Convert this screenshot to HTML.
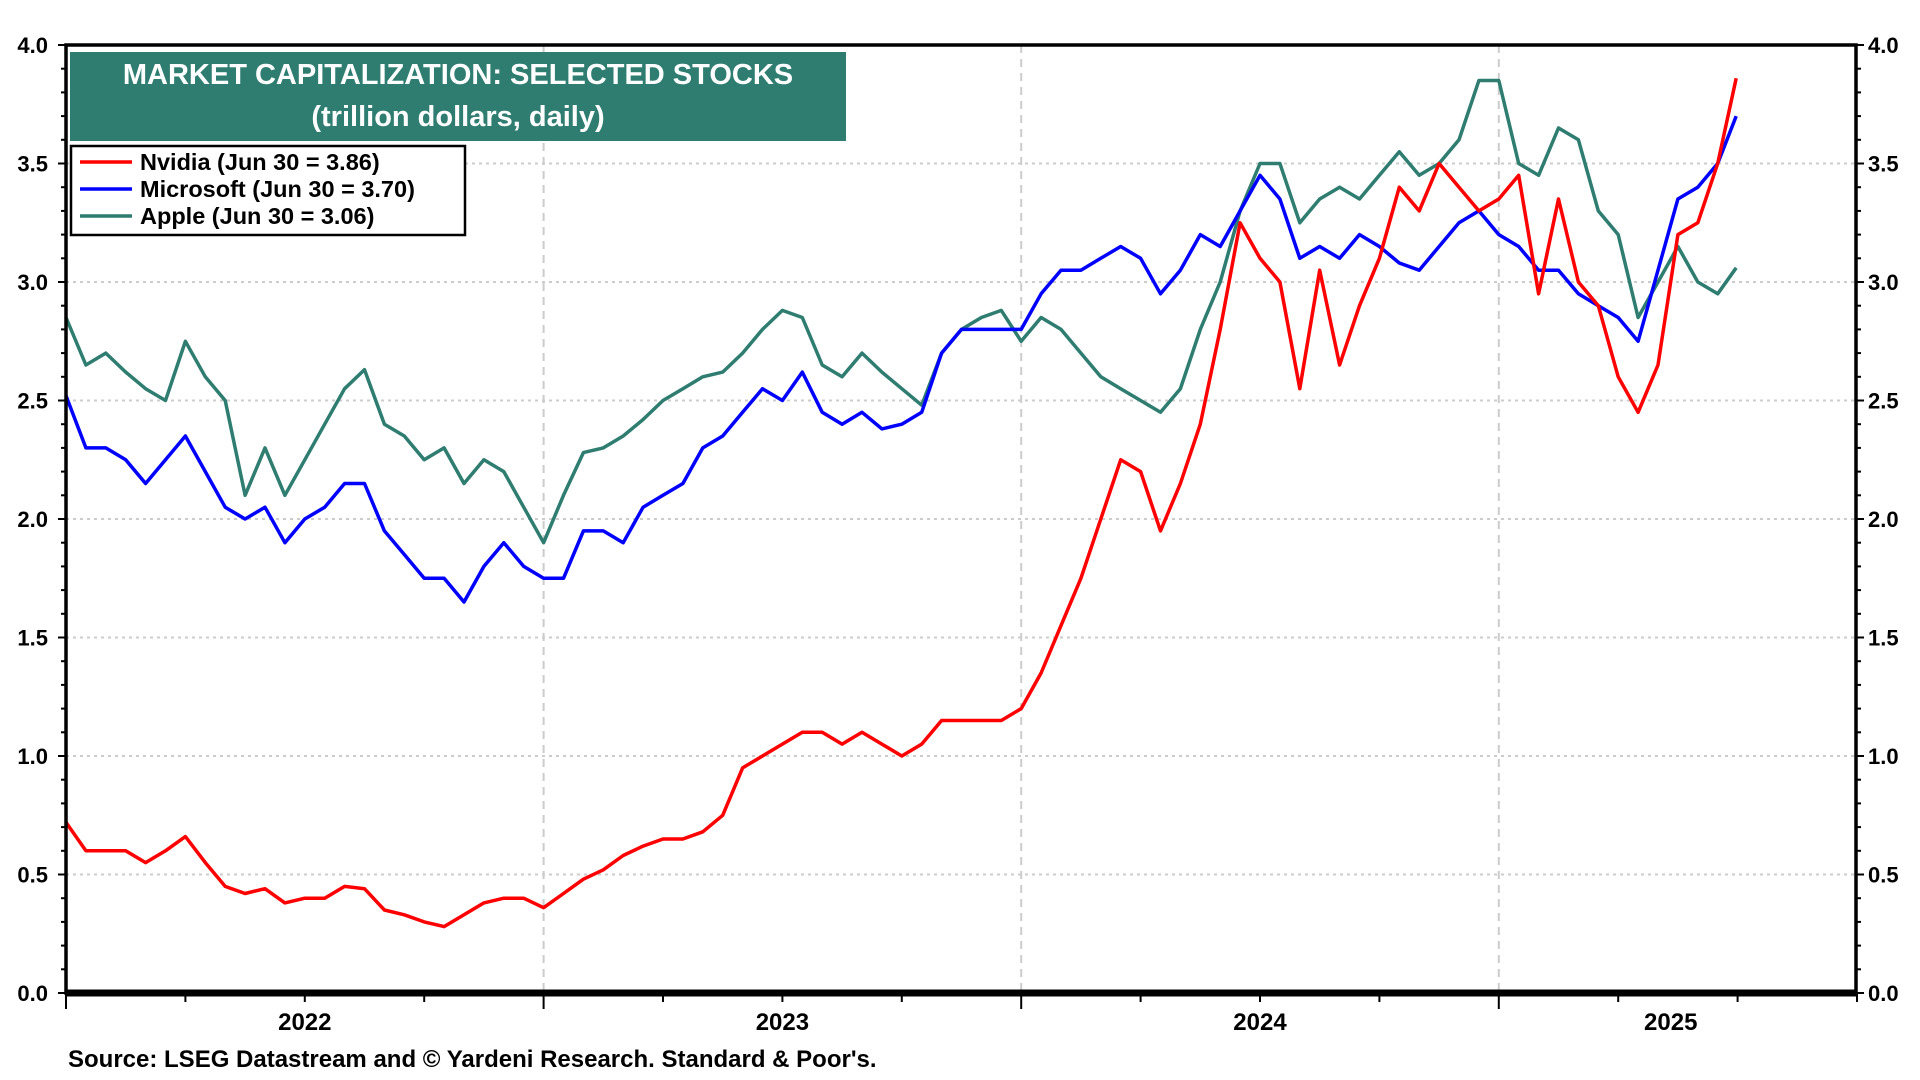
<!DOCTYPE html>
<html><head><meta charset="utf-8"><style>
html,body{margin:0;padding:0;background:#fff;}
svg{display:block;font-family:"Liberation Sans",Arial,sans-serif;font-weight:bold;}
</style></head><body>
<svg id="chart" width="1920" height="1080" viewBox="0 0 1920 1080" xmlns="http://www.w3.org/2000/svg">
<g id="grid"></g>
<g id="series"></g>
<g id="axes"></g>
<rect x="70" y="52" width="776" height="89" fill="#2e7d70"/>
<text x="458" y="84" text-anchor="middle" fill="#fff" font-size="29">MARKET CAPITALIZATION: SELECTED STOCKS</text>
<text x="458" y="126" text-anchor="middle" fill="#fff" font-size="29">(trillion dollars, daily)</text>
<g>
<rect x="71" y="146" width="394" height="89" fill="#fff" stroke="#000" stroke-width="2.5"/>
<line x1="80" y1="162" x2="132" y2="162" stroke="#ff0000" stroke-width="3.5"/>
<text x="140" y="170" font-size="23.5">Nvidia (Jun 30 = 3.86)</text>
<line x1="80" y1="189" x2="132" y2="189" stroke="#0000ff" stroke-width="3.5"/>
<text x="140" y="197" font-size="23.5">Microsoft (Jun 30 = 3.70)</text>
<line x1="80" y1="216" x2="132" y2="216" stroke="#2e7d70" stroke-width="3.5"/>
<text x="140" y="224" font-size="23.5">Apple (Jun 30 = 3.06)</text>
</g>
<text x="68" y="1067" font-size="24">Source: LSEG Datastream and © Yardeni Research. Standard &amp; Poor's.</text>
</svg>
<script>
const yTicks = [0, 0.5, 1.0, 1.5, 2.0, 2.5, 3.0, 3.5, 4.0];
const yearLabels = ["2022", "2023", "2024", "2025"];
const yearLabelPos = [2022.5, 2023.5, 2024.5, 2025.36];
const startYear = 2022;
// semi-monthly samples from Jan 1 2022 to Jun 15 2025, plus Jun 30 2025
const apple = [2.85,2.65,2.70,2.62,2.55,2.50,2.75,2.60,2.50,2.10,2.30,2.10,2.25,2.40,2.55,2.63,2.40,2.35,2.25,2.30,2.15,2.25,2.20,2.05,
1.90,2.10,2.28,2.30,2.35,2.42,2.50,2.55,2.60,2.62,2.70,2.80,2.88,2.85,2.65,2.60,2.70,2.62,2.55,2.48,2.70,2.80,2.85,2.88,
2.75,2.85,2.80,2.70,2.60,2.55,2.50,2.45,2.55,2.80,3.00,3.30,3.50,3.50,3.25,3.35,3.40,3.35,3.45,3.55,3.45,3.50,3.60,3.85,
3.85,3.50,3.45,3.65,3.60,3.30,3.20,2.85,3.00,3.15,3.00,2.95,3.06];
const microsoft = [2.52,2.30,2.30,2.25,2.15,2.25,2.35,2.20,2.05,2.00,2.05,1.90,2.00,2.05,2.15,2.15,1.95,1.85,1.75,1.75,1.65,1.80,1.90,1.80,
1.75,1.75,1.95,1.95,1.90,2.05,2.10,2.15,2.30,2.35,2.45,2.55,2.50,2.62,2.45,2.40,2.45,2.38,2.40,2.45,2.70,2.80,2.80,2.80,
2.80,2.95,3.05,3.05,3.10,3.15,3.10,2.95,3.05,3.20,3.15,3.30,3.45,3.35,3.10,3.15,3.10,3.20,3.15,3.08,3.05,3.15,3.25,3.30,
3.20,3.15,3.05,3.05,2.95,2.90,2.85,2.75,3.05,3.35,3.40,3.50,3.70];
const nvidia = [0.72,0.60,0.60,0.60,0.55,0.60,0.66,0.55,0.45,0.42,0.44,0.38,0.40,0.40,0.45,0.44,0.35,0.33,0.30,0.28,0.33,0.38,0.40,0.40,
0.36,0.42,0.48,0.52,0.58,0.62,0.65,0.65,0.68,0.75,0.95,1.00,1.05,1.10,1.10,1.05,1.10,1.05,1.00,1.05,1.15,1.15,1.15,1.15,
1.20,1.35,1.55,1.75,2.00,2.25,2.20,1.95,2.15,2.40,2.80,3.25,3.10,3.00,2.55,3.05,2.65,2.90,3.10,3.40,3.30,3.50,3.40,3.30,
3.35,3.45,2.95,3.35,3.00,2.90,2.60,2.45,2.65,3.20,3.25,3.50,3.86];

const X0 = 66, X1 = 1856, Y0 = 993, Y1 = 45;
const YEAR_W = 477.6;
const xScale = t => X0 + (t - startYear) * YEAR_W;
const yScale = v => Y0 - (v / 4) * (Y0 - Y1);
const NS = "http://www.w3.org/2000/svg";
function mk(tag, attrs, parent) {
  const e = document.createElementNS(NS, tag);
  for (const k in attrs) e.setAttribute(k, attrs[k]);
  parent.appendChild(e);
  return e;
}
const grid = document.getElementById('grid');
const axes = document.getElementById('axes');
const series = document.getElementById('series');

yTicks.forEach(v => {
  const y = yScale(v);
  if (v > 0 && v < 4) {
    const g = mk('line', {x1: X0, x2: X1, y1: y, y2: y, stroke: '#cccccc', 'stroke-width': 2, 'stroke-dasharray': '3,4'}, grid);
    
    
  }
  const l = mk('text', {x: X0 - 18, y: y + 8, 'text-anchor': 'end', 'font-size': 22}, axes);
  l.textContent = v.toFixed(1);
  
  
  const r = mk('text', {x: X1 + 12, y: y + 8, 'text-anchor': 'start', 'font-size': 22}, axes);
  r.textContent = v.toFixed(1);
  
  
});
for (let i = 0; i <= 40; i++) {
  const y = yScale(i * 0.1);
  const len = (i % 5 === 0) ? 8 : 5;
  mk('line', {x1: X0 - len, x2: X0, y1: y, y2: y, stroke: '#000', 'stroke-width': 2}, axes);
  mk('line', {x1: X1, x2: X1 + len, y1: y, y2: y, stroke: '#000', 'stroke-width': 2}, axes);
}
for (let yr = 2023; yr <= 2025; yr++) {
  const x = xScale(yr);
  const g = mk('line', {x1: x, x2: x, y1: Y1, y2: Y0, stroke: '#cccccc', 'stroke-width': 2, 'stroke-dasharray': '8,6'}, grid);
  
  
}
for (let q = 0; q * 0.25 + startYear <= 2025.75; q++) {
  const x = xScale(startYear + q * 0.25);
  mk('line', {x1: x, x2: x, y1: Y0, y2: Y0 + (q % 4 === 0 ? 16 : 9), stroke: '#000', 'stroke-width': 2}, axes);
}
yearLabels.forEach((lab, i) => {
  const t = mk('text', {x: xScale(yearLabelPos[i]), y: 1030, 'text-anchor': 'middle', 'font-size': 24}, axes);
  t.textContent = lab;
  
  
});
const frame = mk('rect', {x: X0, y: Y1, width: X1 - X0, height: Y0 - Y1, fill: 'none', stroke: '#000', 'stroke-width': 3.5}, axes);


mk('line', {x1: X0, x2: X1, y1: Y0, y2: Y0, stroke: '#000', 'stroke-width': 7}, axes);

function tOf(i, n) {
  if (i === n - 1) return 2025.497;
  return startYear + i / 24;
}
function drawSeries(vals, color, name) {
  const pts = vals.map((v, i) => xScale(tOf(i, vals.length)).toFixed(1) + ',' + yScale(v).toFixed(1)).join(' ');
  const p = mk('polyline', {points: pts, fill: 'none', stroke: color, 'stroke-width': 3.5, 'stroke-linejoin': 'round'}, series);
  
  
}
drawSeries(apple, '#2e7d70', 'apple-line');
drawSeries(microsoft, '#0000ff', 'microsoft-line');
drawSeries(nvidia, '#ff0000', 'nvidia-line');
</script>
</body></html>
